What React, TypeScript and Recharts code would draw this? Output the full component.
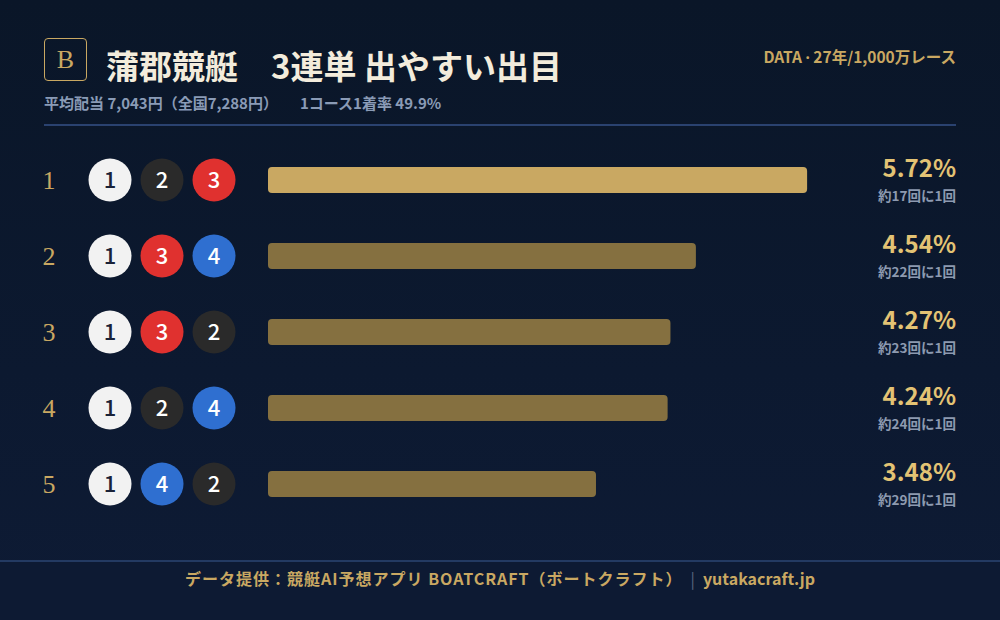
import { BarChart, Bar, XAxis, YAxis, Cell } from 'recharts';

const ranks = ['1', '2', '3', '4', '5'];
const combos = [
  [1, 2, 3],
  [1, 3, 4],
  [1, 3, 2],
  [1, 2, 4],
  [1, 4, 2],
];
const rates = [5.72, 4.54, 4.27, 4.24, 3.48];
const odds = [17, 22, 23, 24, 29];

const data = ranks.map((rank, i) => ({ rank, rate: rates[i] }));

const GOLD = '#c9a862';
const SANS = '"Noto Sans CJK JP", "Noto Sans", sans-serif';
const SERIF = '"Liberation Serif", "DejaVu Serif", serif';

// boat colours by lane
const laneFill: Record<number, string> = {
  1: '#f2f2f2',
  2: '#2a2a2a',
  3: '#e0312f',
  4: '#2f6fd0',
  5: '#e8c63a',
  6: '#2f9e55',
};
const laneText: Record<number, string> = {
  1: '#1a2238',
  2: '#ffffff',
  3: '#ffffff',
  4: '#ffffff',
  5: '#1a2238',
  6: '#ffffff',
};

function LeftTick(props: any) {
  const { x, y, index } = props;
  const left = x - 240;
  const boats = combos[index];
  return (
    <g>
      <text x={left + 21} y={y + 9} textAnchor="middle" fill={GOLD} fontSize={26} fontFamily={SERIF}>
        {ranks[index]}
      </text>
      {boats.map((b, j) => (
        <g key={j}>
          <circle cx={left + 82 + j * 52} cy={y} r={21.5} fill={laneFill[b]} />
          <text
            x={left + 82 + j * 52}
            y={y + 8}
            textAnchor="middle"
            fill={laneText[b]}
            fontSize={22}
            fontWeight={500}
            fontFamily={SANS}
          >
            {b}
          </text>
        </g>
      ))}
    </g>
  );
}

function RightTick(props: any) {
  const { x, y, index } = props;
  const right = x + 122.5;
  return (
    <g>
      <text x={right} y={y - 3} textAnchor="end" fill="#e3c374" fontSize={24} fontWeight={700} fontFamily={SANS}>
        {rates[index].toFixed(2)}%
      </text>
      <text x={right} y={y + 21} textAnchor="end" fill="#8d9ab0" fontSize={13.5} fontWeight={700} fontFamily={SANS}>
        約{odds[index]}回に1回
      </text>
    </g>
  );
}

export default function App() {
  return (
    <div
      style={{
        position: 'absolute',
        left: 0,
        top: 0,
        width: 1000,
        height: 620,
        overflow: 'hidden',
        background: 'linear-gradient(180deg, #0a1628 0%, #0c1930 60%, #0e1b35 100%)',
        fontFamily: SANS,
      }}
    >
      {/* header */}
      <div
        style={{
          position: 'absolute',
          left: 44,
          top: 38,
          width: 41,
          height: 41,
          border: `1.5px solid ${GOLD}`,
          borderRadius: 4,
          color: GOLD,
          fontFamily: SERIF,
          fontSize: 26,
          lineHeight: '42px',
          textAlign: 'center',
        }}
      >
        B
      </div>
      <div
        style={{
          position: 'absolute',
          left: 106,
          top: 42,
          fontSize: 33,
          fontWeight: 700,
          color: '#f3ecdc',
          lineHeight: '46px',
          whiteSpace: 'pre',
          fontFamily: '"Noto Sans CJK JP", serif',
        }}
      >
        {'蒲郡競艇　3連単 出やすい出目'}
      </div>
      <div
        style={{
          position: 'absolute',
          left: 44,
          top: 92,
          fontSize: 15,
          fontWeight: 700,
          color: '#8a9bb6',
          whiteSpace: 'pre',
        }}
      >
        平均配当 7,043円（全国7,288円）
        <span style={{ marginLeft: 22 }}>1コース1着率 49.9%</span>
      </div>
      <div
        style={{
          position: 'absolute',
          right: 44,
          top: 45,
          fontSize: 15.5,
          fontWeight: 700,
          color: GOLD,
          whiteSpace: 'pre',
        }}
      >
        DATA <span style={{ fontFamily: '"Noto Sans", sans-serif' }}>·</span> 27年/1,000万レース
      </div>
      <div style={{ position: 'absolute', left: 44, top: 124, width: 912, height: 2, background: '#2a4270' }} />

      <div style={{ position: 'absolute', left: 0, top: 0 }}>
        <BarChart
          width={1000}
          height={620}
          data={data}
          layout="vertical"
          margin={{ top: 142, right: 16.5, bottom: 98, left: 28 }}
          barCategoryGap={25}
        >
          <XAxis type="number" domain={[0, 6]} hide />
          <YAxis
            yAxisId="left"
            type="category"
            dataKey="rank"
            width={240}
            axisLine={false}
            tickLine={false}
            tickSize={0}
            tickMargin={0}
            tick={<LeftTick />}
          />
          <YAxis
            yAxisId="right"
            orientation="right"
            type="category"
            dataKey="rank"
            width={150}
            axisLine={false}
            tickLine={false}
            tickSize={0}
            tickMargin={0}
            tick={<RightTick />}
          />
          <Bar yAxisId="left" dataKey="rate" radius={4} isAnimationActive={false}>
            {data.map((d, i) => (
              <Cell key={d.rank} fill={i === 0 ? '#c9a862' : '#857040'} />
            ))}
          </Bar>
        </BarChart>
      </div>

      {/* footer */}
      <div
        style={{
          position: 'absolute',
          left: 0,
          top: 560,
          width: 1000,
          height: 60,
          borderTop: '2px solid #233a62',
          background: '#0d1a33',
        }}
      />
      <div
        style={{
          position: 'absolute',
          left: 0,
          top: 566,
          width: 1000,
          textAlign: 'center',
          fontSize: 16,
          fontWeight: 700,
          color: GOLD,
          whiteSpace: 'pre',
        }}
      >
        <span style={{ letterSpacing: 1 }}>データ提供：競艇AI予想アプリ BOATCRAFT（ボートクラフト）</span>
        <span style={{ color: '#5a6680', fontWeight: 400, margin: '0 8px' }}>|</span>
        yutakacraft.jp
      </div>
    </div>
  );
}
